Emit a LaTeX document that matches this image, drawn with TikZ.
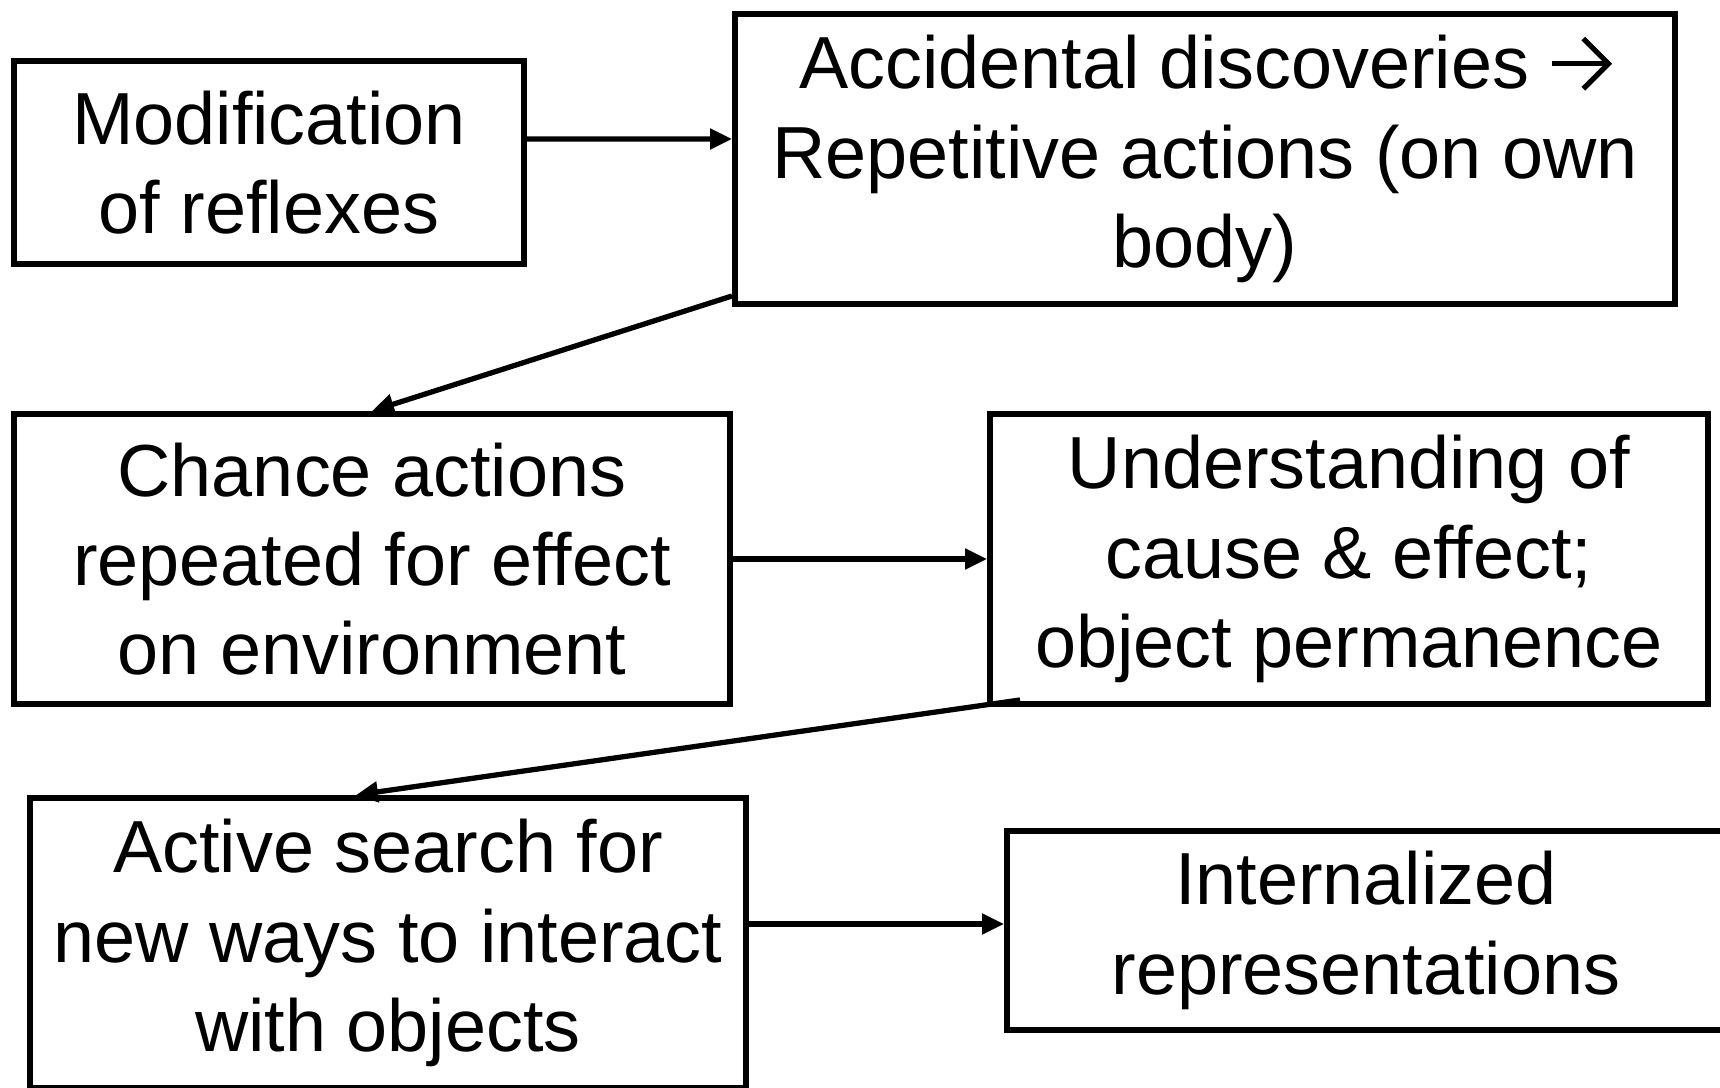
\documentclass[tikz,border=0pt]{standalone}
\usepackage{fontspec}
\setmainfont{Liberation Sans}
\usetikzlibrary{arrows.meta}
\newcommand{\myrarrow}{\tikz[baseline=0pt]{\draw[black, line width=0.07em, line cap=butt] (0,0.34em) -- (0.74em,0.34em); \draw[black, line width=0.07em, line join=miter] (0.42em,0.68em) -- (0.76em,0.34em) -- (0.42em,0em);}}
\tikzset{
  box/.style={draw=black, line width=1.7pt, fill=white, inner sep=0pt, align=center,
    font=\fontsize{21pt}{25.4pt}\selectfont},
  arr/.style={line width=1.5pt, -{Triangle[length=2.2mm,width=2.0mm]}}
}
\begin{document}
\begin{tikzpicture}[x=1cm,y=1cm]
\fill[white] (0,0) rectangle (17.2,10.88);
\useasboundingbox (0,0) rectangle (17.2,10.88);
\node[box, minimum width=5.10cm, minimum height=2.03cm] (b1) at (2.69,9.255) {Modification\\of reflexes};
\node[box, minimum width=9.40cm, minimum height=2.90cm] (b2) at (12.05,9.29) {Accidental discoveries \myrarrow\\Repetitive actions (on own\\body)};
\node[box, minimum width=7.16cm, minimum height=2.90cm] (b3) at (3.72,5.29) {Chance actions\\repeated for effect\\on environment};
\node[box, minimum width=7.18cm, minimum height=2.90cm] (b4) at (13.49,5.29) {Understanding of\\cause \& effect;\\object permanence};
\node[box, minimum width=7.16cm, minimum height=2.90cm] (b5) at (3.88,1.45) {Active search for\\new ways to interact\\with objects};
\node[box, minimum width=7.18cm, minimum height=1.99cm] (b6) at (13.66,1.575) {Internalized\\representations};
\draw[arr] ([yshift=0.235cm]b1.east) -- ([yshift=0.20cm]b2.west);
\draw[arr] ([yshift=0.11cm]b2.south west) -- (b3.north);
\draw[arr] (b3.east) -- (b4.west);
\draw[arr] ([xshift=0.33cm,yshift=0.07cm]b4.south west) -- ([xshift=-0.32cm]b5.north);
\draw[arr] ([yshift=0.19cm]b5.east) -- ([yshift=0.065cm]b6.west);
\end{tikzpicture}
\end{document}
